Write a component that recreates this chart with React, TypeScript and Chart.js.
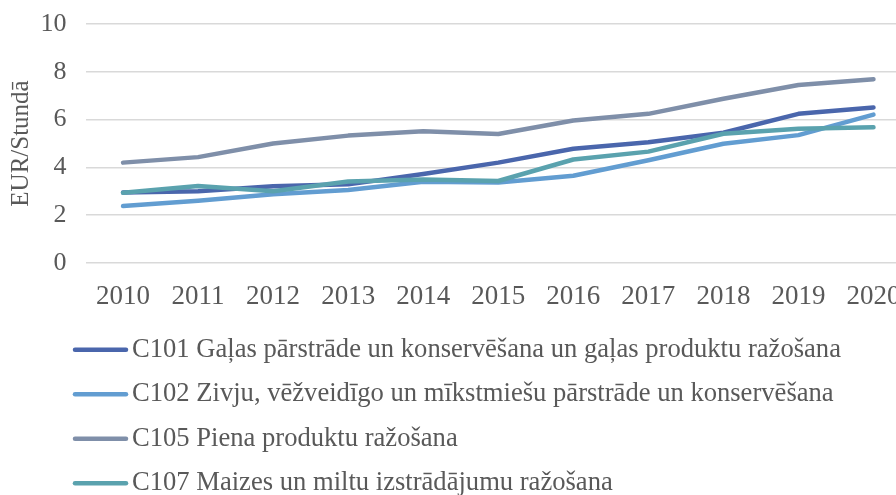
import React, { useEffect, useRef } from 'react';
import { Chart, registerables } from 'chart.js';

Chart.register(...registerables);

const years = ['2010', '2011', '2012', '2013', '2014', '2015', '2016', '2017', '2018', '2019', '2020'];
const seriesNames = [
  'C101 Gaļas pārstrāde un konservēšana un gaļas produktu ražošana',
  'C102 Zivju, vēžveidīgo un mīkstmiešu pārstrāde un konservēšana',
  'C105 Piena produktu ražošana',
  'C107 Maizes un miltu izstrādājumu ražošana',
];
const c101 = [2.95, 3.0, 3.21, 3.29, 3.72, 4.2, 4.78, 5.05, 5.45, 6.24, 6.51];
const c102 = [2.38, 2.6, 2.88, 3.05, 3.4, 3.37, 3.65, 4.3, 4.99, 5.35, 6.21];
const c105 = [4.2, 4.43, 5.0, 5.33, 5.51, 5.4, 5.96, 6.24, 6.87, 7.45, 7.69];
const c107 = [2.94, 3.22, 3.0, 3.41, 3.49, 3.43, 4.33, 4.66, 5.41, 5.62, 5.68];
const seriesColors = ['#4A66AC', '#629DD1', '#7F8FA9', '#5AA2AE'];
const yTitle = 'EUR/Stundā';

const FONT = "'Times New Roman', 'Liberation Serif', serif";
const TEXT = '#595959';
const GRID = '#d9d9d9';

const legendPlugin = {
  id: 'listLegend',
  afterDraw(chart: any) {
    const ctx = chart.ctx;
    const xScale = chart.scales.x;
    const startY = xScale.bottom + 36.5;
    ctx.save();
    ctx.font = `26.6px ${FONT}`;
    ctx.textBaseline = 'middle';
    ctx.textAlign = 'left';
    chart.data.datasets.forEach((ds: any, i: number) => {
      const y = startY + i * 44.5;
      ctx.strokeStyle = ds.borderColor;
      ctx.lineWidth = 4.5;
      ctx.lineCap = 'round';
      ctx.beginPath();
      ctx.moveTo(75, y);
      ctx.lineTo(126, y);
      ctx.stroke();
      ctx.fillStyle = TEXT;
      ctx.fillText(ds.label, 132, y);
    });
    ctx.restore();
  },
};

export default function App() {
  const ref = useRef<HTMLCanvasElement>(null);
  useEffect(() => {
    const canvas = ref.current!;
    const all = [c101, c102, c105, c107];
    const chart = new Chart(canvas, {
      type: 'line',
      data: {
        labels: years,
        datasets: all.map((d, i) => ({
          label: seriesNames[i],
          data: d,
          borderColor: seriesColors[i],
          backgroundColor: seriesColors[i],
          borderWidth: 4.5,
          borderCapStyle: 'round',
          borderJoinStyle: 'round',
          pointRadius: 0,
          pointHoverRadius: 0,
          tension: 0,
          order: all.length - i,
        })),
      },
      options: {
        responsive: false,
        animation: false,
        devicePixelRatio: 1,
        layout: { autoPadding: false, padding: { top: 24, left: 0, right: 0, bottom: 189.8 } },
        plugins: {
          legend: { display: false },
          tooltip: { enabled: false },
        },
        scales: {
          x: {
            offset: true,
            grid: { display: false, drawTicks: false },
            border: { display: false },
            ticks: {
              color: TEXT,
              padding: 17.8,
              maxRotation: 0,
              autoSkip: false,
              font: { family: FONT, size: 27 },
            },
            afterFit(s: any) {
              s.height = 50.2;
              s.paddingLeft = 0;
              s.paddingRight = 0;
            },
          },
          y: {
            min: 0,
            max: 10,
            grid: { color: GRID, lineWidth: 1.5, drawTicks: false },
            border: { display: false },
            ticks: {
              stepSize: 2,
              color: TEXT,
              padding: 19,
              font: { family: FONT, size: 26 },
            },
            title: {
              display: true,
              text: yTitle,
              color: TEXT,
              padding: { top: 6.5, bottom: 4 },
              font: { family: FONT, size: 25 },
            },
            afterFit(s: any) {
              s.width = 85.5;
              s.paddingTop = 0;
              s.paddingBottom = 0;
            },
          },
        },
      },
      plugins: [legendPlugin],
    });
    return () => chart.destroy();
  }, []);
  return (
    <div style={{ position: 'fixed', left: 0, top: 0, width: 896, height: 495, overflow: 'hidden', background: '#fff' }}>
      <canvas ref={ref} width={911} height={503} style={{ width: 911, height: 503, display: 'block' }} />
    </div>
  );
}
